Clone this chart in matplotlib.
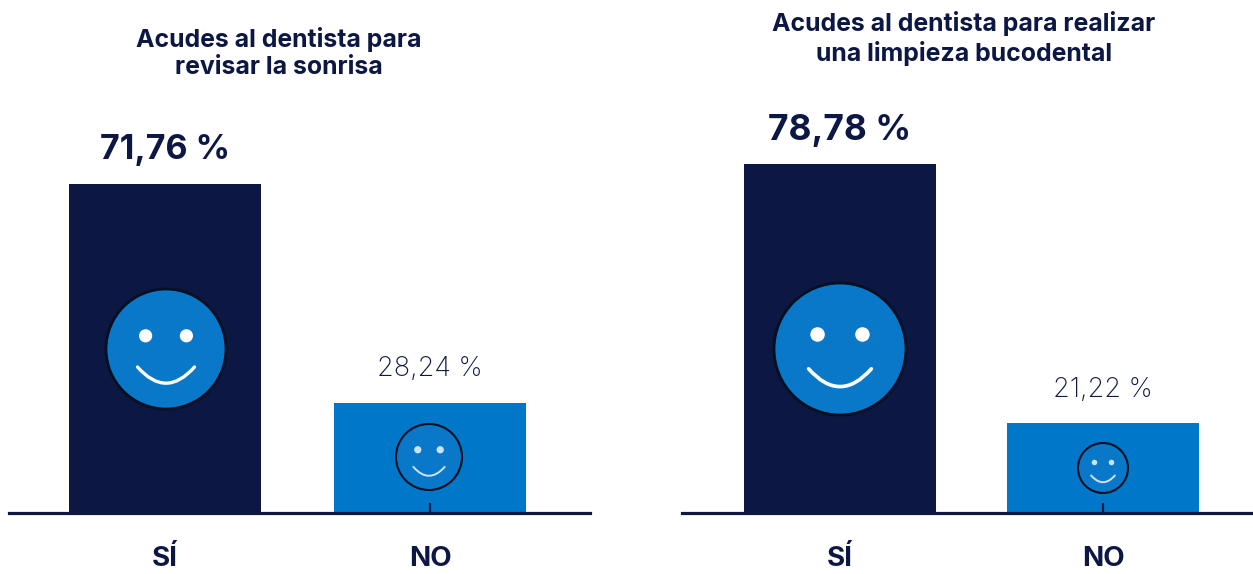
import matplotlib
matplotlib.use("Agg")
import matplotlib.pyplot as plt
from matplotlib.patches import Circle, PathPatch
from matplotlib.path import Path

W, H = 1253, 574
DARK = "#0C1744"
BLUE = "#0077C8"
FACE = "#0A78C8"
FONT = "Inter"

categories = ["SÍ", "NO"]
values_left = [71.76, 28.24]
values_right = [78.78, 21.22]
labels_left = ["71,76 %", "28,24 %"]
labels_right = ["78,78 %", "21,22 %"]
title_left = "Acudes al dentista para\nrevisar la sonrisa"
title_right = "Acudes al dentista para realizar\nuna limpieza bucodental"

plt.rcParams["font.family"] = [FONT, "DejaVu Sans"]
fig = plt.figure(figsize=(W / 100, H / 100), dpi=100, facecolor="white")


def panel(x0, x1, xlim, ylim, width, vals, labs, big, small, gap_big, gap_small):
    base = 513
    ax = fig.add_axes([x0 / W, 1 - base / H, (x1 - x0) / W, base / H])
    ax.set_xlim(*xlim)
    ax.set_ylim(*ylim)
    ax.bar([0, 1], vals, width=width, color=[DARK, BLUE])
    ax.set_xticks([0, 1], categories, fontsize=20, fontweight="bold", color=DARK,
                  va="baseline")
    ax.tick_params(axis="x", direction="in", length=7, width=1.6, color=DARK, pad=38.5)
    ax.set_yticks([])
    for s in ["top", "left", "right"]:
        ax.spines[s].set_visible(False)
    ax.spines["bottom"].set_linewidth(2.3)
    ax.spines["bottom"].set_color(DARK)
    ax.patch.set_alpha(0)
    ax.annotate(labs[0], (0, vals[0]), xytext=(0, gap_big), textcoords="offset pixels",
                ha="center", va="baseline", fontsize=big, fontweight="bold", color=DARK)
    ax.annotate(labs[1], (1, vals[1]), xytext=(0, gap_small), textcoords="offset pixels",
                ha="center", va="baseline", fontsize=small, fontweight="light", color=DARK)
    return ax


panel(9, 590, (-0.589, 1.604), (6.37, 6.37 + 513 / 5.03), 0.7245,
      values_left, labels_left, 24.5, 19.5, 25, 27)
panel(682, 1253, (-0.60, 1.57), (1.22, 1.22 + 513 / 4.5), 0.73,
      values_right, labels_right, 25.5, 19.5, 24, 26)

for (x, y, t) in [(279, 53, title_left), (964, 38.5, title_right)]:
    fig.text(x / W, 1 - y / H, t, ha="center", va="center", fontsize=17.9,
             fontweight="bold", color=DARK, linespacing=1.25)

# Decorative smiley icons, placed in pixel coordinates of the figure
deco = fig.add_axes([0, 0, 1, 1], zorder=5)
deco.set_xlim(0, W)
deco.set_ylim(H, 0)
deco.axis("off")
face_cx = [166, 429, 840, 1103]
face_cy = [349, 457, 349, 468]
face_r = [60, 33, 66, 25]
face_fill = [True, False, True, False]
for cx, cy, r, filled in zip(face_cx, face_cy, face_r, face_fill):
    deco.add_patch(Circle((cx, cy), r, facecolor=FACE, edgecolor="#061020",
                          lw=2.0 if filled else 1.5))
    for sx in (-1, 1):
        deco.add_patch(Circle((cx + sx * 0.34 * r, cy - 0.22 * r), 0.11 * r,
                              facecolor="white", edgecolor="none",
                              alpha=1 if filled else 0.8))
    a, y0, d = 0.475 * r, cy + 0.3 * r, 0.27 * r
    p = Path([(cx - a, y0), (cx, y0 + 2 * d), (cx + a, y0)],
             [Path.MOVETO, Path.CURVE3, Path.CURVE3])
    deco.add_patch(PathPatch(p, facecolor="none", edgecolor="white",
                             lw=max(1.4, 0.04 * r), capstyle="round",
                             alpha=1 if filled else 0.8))

fig.savefig("out.png", dpi=100)
